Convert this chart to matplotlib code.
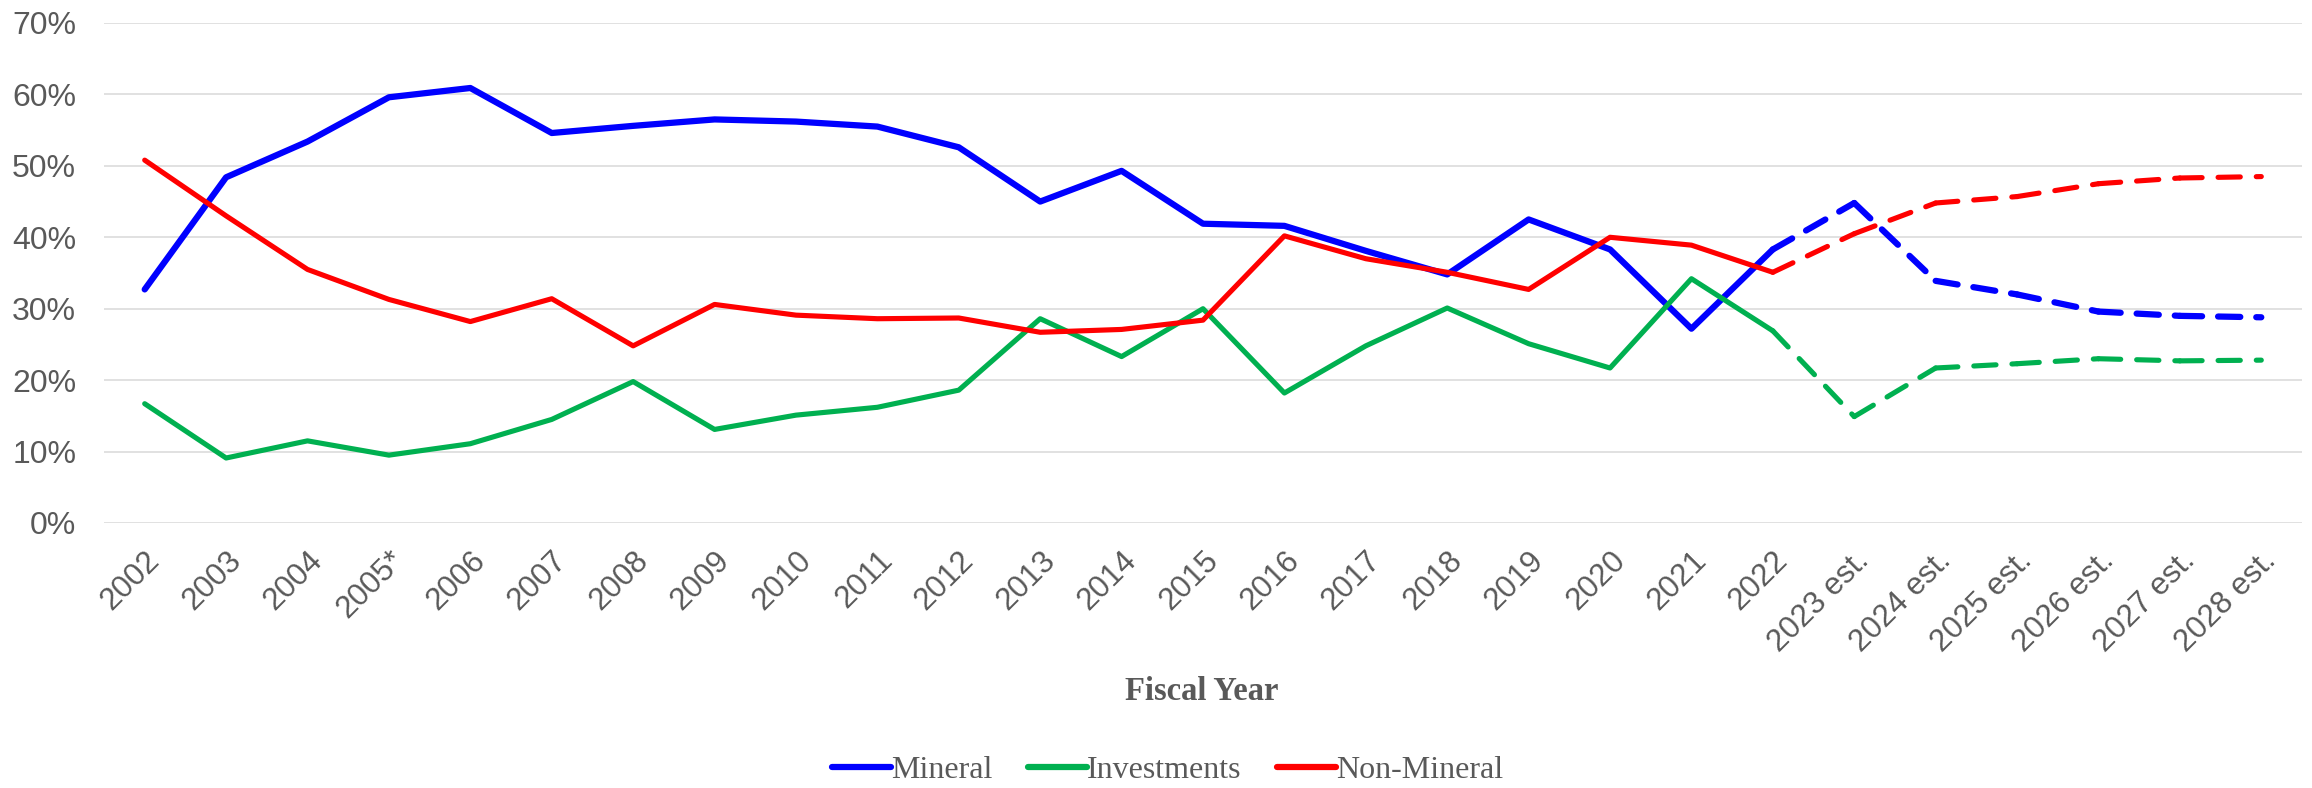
import matplotlib.pyplot as plt
from matplotlib.ticker import PercentFormatter

years = ['2002', '2003', '2004', '2005*', '2006', '2007', '2008', '2009', '2010',
         '2011', '2012', '2013', '2014', '2015', '2016', '2017', '2018', '2019',
         '2020', '2021', '2022', '2023 est.', '2024 est.', '2025 est.',
         '2026 est.', '2027 est.', '2028 est.']

mineral = [32.7, 48.4, 53.4, 59.6, 60.9, 54.6, 55.6, 56.5, 56.2, 55.5, 52.6,
           45.0, 49.3, 41.9, 41.6, 38.1, 34.8, 42.5, 38.3, 27.2, 38.3,
           44.8, 33.9, 32.0, 29.6, 29.0, 28.8]
investments = [16.7, 9.1, 11.5, 9.5, 11.1, 14.5, 19.8, 13.1, 15.1, 16.2, 18.6,
               28.6, 23.3, 30.0, 18.2, 24.8, 30.1, 25.1, 21.7, 34.2, 26.9,
               14.9, 21.7, 22.3, 23.0, 22.7, 22.8]
non_mineral = [50.8, 43.0, 35.5, 31.3, 28.2, 31.4, 24.8, 30.6, 29.1, 28.6, 28.7,
               26.7, 27.1, 28.4, 40.2, 37.0, 35.1, 32.7, 40.0, 38.9, 35.1,
               40.5, 44.8, 45.7, 47.5, 48.3, 48.5]

last_actual = 20  # index of 2022, estimates start after it

series = [('Mineral', mineral, '#0000FF', 4.5),
          ('Investments', investments, '#00B050', 3.7),
          ('Non-Mineral', non_mineral, '#FF0000', 3.7)]

text_col = '#595959'

fig = plt.figure(figsize=(23.12, 7.88), dpi=100)
ax = fig.add_axes([104 / 2312, 1 - 523 / 788, 2198 / 2312, 500 / 788])

x = list(range(len(years)))
handles = []
for name, vals, col, lw in series:
    h, = ax.plot(x[:last_actual + 1], vals[:last_actual + 1], color=col, lw=lw,
                 solid_joinstyle='round', solid_capstyle='round', label=name)
    handles.append(h)
    # Excel restarts the dash pattern on every segment
    on, off = 16.0 / lw, 11.5 / lw
    for i in range(last_actual, len(years) - 1):
        ax.plot(x[i:i + 2], vals[i:i + 2], color=col, lw=lw,
                linestyle=(0, (on, off)), dash_capstyle='round')

ax.set_xlim(-0.5, len(years) - 0.5)
ax.set_ylim(0, 70)
ax.set_yticks(range(0, 71, 10))
ax.yaxis.set_major_formatter(PercentFormatter(decimals=0))
ax.grid(axis='y', color='#D9D9D9', lw=1.1)
ax.set_axisbelow(True)
for s in ax.spines.values():
    s.set_visible(False)

ax.set_xticks(x)
ax.set_xticklabels(years, rotation=45, ha='right', va='top',
                   rotation_mode='anchor')
ax.tick_params(axis='x', length=0, pad=16, labelsize=22.5, labelcolor=text_col)
ax.tick_params(axis='y', length=0, pad=20, labelsize=23, labelcolor=text_col)
for lab in ax.get_xticklabels() + ax.get_yticklabels():
    lab.set_family('Liberation Sans')

fig.text(0.52, 1 - 692 / 788, 'Fiscal Year', ha='center', va='center',
         family='Liberation Serif', weight='bold', fontsize=23.5, color=text_col)

leg = fig.legend(handles=handles, loc='center', bbox_to_anchor=(0.505, 1 - 770 / 788),
                 ncol=3, frameon=False, handlelength=1.85, handletextpad=0.0,
                 columnspacing=1.1, prop={'family': 'Liberation Serif', 'size': 23})
for t in leg.get_texts():
    t.set_color(text_col)
for l in leg.get_lines():
    l.set_linewidth(4.5)
    l.set_solid_capstyle('round')

fig.savefig('out.png', dpi=100)
